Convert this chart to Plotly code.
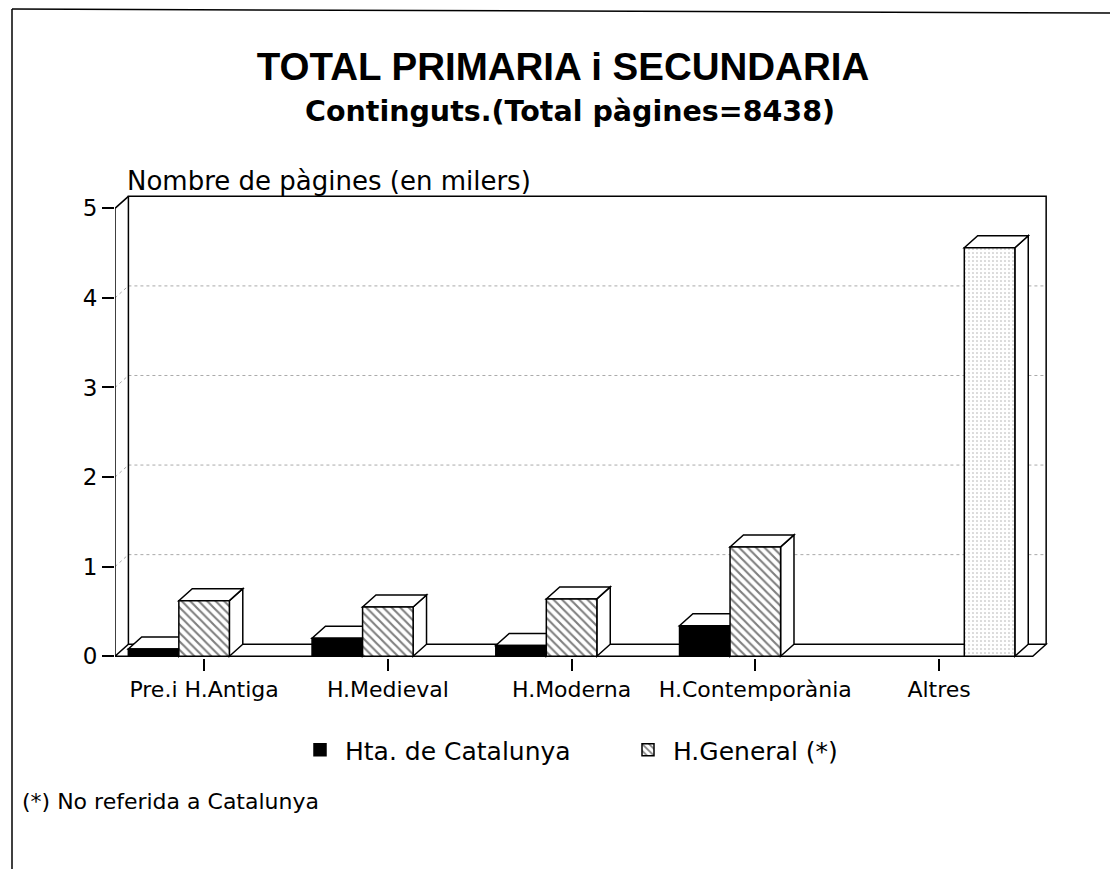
import plotly.graph_objects as go

# ---- data (thousands of pages) ----
categories = ["Pre.i H.Antiga", "H.Medieval", "H.Moderna", "H.Contemporània", "Altres"]
catalunya = [0.08, 0.20, 0.12, 0.34, None]
general = [0.62, 0.55, 0.64, 1.22, None]
altres = [None, None, None, None, 4.56]
y_ticks = [0, 1, 2, 3, 4, 5]

title = "TOTAL PRIMARIA i SECUNDARIA"
subtitle = "Continguts.(Total pàgines=8438)"
ytitle = "Nombre de pàgines (en milers)"
footnote = "(*) No referida a Catalunya"

# ---- geometry / style ----
OFF = 8  # page body margin
W, H = 1110, 861
ML, MR, MT, MB = 107, 70, 187, 211
XMIN, XMAX, DX, DY, YTOP = -0.485, 4.51, 0.073, 0.134, 5
XR = [XMIN, XMAX + DX + 0.01]
YR = [-0.02, YTOP + DY + 0.015]
BW = 0.275
FONT = "DejaVu Sans"

pw = W - ML - MR
ph = H - MT - MB


def px(x):
    # screen pixel x -> paper
    return (x - OFF - ML) / pw


def py(y):
    # screen pixel y -> paper
    return (H - MB - (y - OFF)) / ph


xs = list(range(len(categories)))

fig = go.Figure()
fig.add_trace(go.Bar(
    x=xs, y=catalunya, name="Hta. de Catalunya", width=BW, offset=-1.5 * BW,
    marker=dict(color="black", line=dict(color="black", width=1.5)),
))
fig.add_trace(go.Bar(
    x=xs, y=general, name="H.General (*)", width=BW, offset=-0.5 * BW,
    marker=dict(color="white", line=dict(color="black", width=1.5),
                pattern=dict(shape="\\", size=6, solidity=0.35, fgcolor="black", bgcolor="white")),
))
fig.add_trace(go.Bar(
    x=xs, y=altres, name="Altres", width=BW, offset=0.5 * BW, showlegend=False,
    marker=dict(color="white", line=dict(color="black", width=1.5),
                pattern=dict(shape=".", size=4, solidity=0.12, fgcolor="#555", bgcolor="white")),
))

shapes = []
L = dict(color="black", width=1.5)
GL = dict(color="#aaa", width=1, dash="dot")

# floor
shapes.append(dict(type="path", layer="between", xref="x", yref="y",
                   path=f"M {XMIN},0 L {XMAX},0 L {XMAX+DX},{DY} L {XMIN+DX},{DY} Z",
                   line=L, fillcolor="white"))
# grid lines on back wall + left wall diagonals
for k in y_ticks[1:-1]:
    shapes.append(dict(type="line", layer="between", xref="x", yref="y",
                       x0=XMIN + DX, x1=XMAX + DX, y0=k + DY, y1=k + DY, line=GL))
    shapes.append(dict(type="line", layer="between", xref="x", yref="y",
                       x0=XMIN, x1=XMIN + DX, y0=k, y1=k + DY, line=GL))
# back wall
shapes.append(dict(type="path", layer="between", xref="x", yref="y",
                   path=f"M {XMIN+DX},{DY} L {XMIN+DX},{YTOP+DY} L {XMAX+DX},{YTOP+DY} L {XMAX+DX},{DY}",
                   line=L))
shapes.append(dict(type="line", layer="between", xref="x", yref="y",
                   x0=XMIN, x1=XMIN + DX, y0=YTOP, y1=YTOP + DY, line=L))
# front y axis
shapes.append(dict(type="line", layer="above", xref="x", yref="y",
                   x0=XMIN, x1=XMIN, y0=0, y1=YTOP, line=L))

# 3D tops and sides of bars
for vals, off in ((catalunya, -1.5 * BW), (general, -0.5 * BW), (altres, 0.5 * BW)):
    for c, v in zip(xs, vals):
        if v is None:
            continue
        x0 = c + off
        x1 = x0 + BW
        shapes.append(dict(type="path", layer="between", xref="x", yref="y",
                           path=f"M {x1},0 L {x1+DX},{DY} L {x1+DX},{v+DY} L {x1},{v} Z",
                           line=L, fillcolor="white"))
        shapes.append(dict(type="path", layer="between", xref="x", yref="y",
                           path=f"M {x0},{v} L {x1},{v} L {x1+DX},{v+DY} L {x0+DX},{v+DY} Z",
                           line=L, fillcolor="white"))

# page frame
shapes.append(dict(type="line", xref="paper", yref="paper", x0=px(12), x1=px(12), y0=py(9), y1=py(869),
                   line=dict(color="black", width=1.5)))
shapes.append(dict(type="line", xref="paper", yref="paper", x0=px(12), x1=px(1118), y0=py(9), y1=py(13),
                   line=dict(color="black", width=1.5)))

annotations = [
    dict(text=f"<b>{subtitle}</b>", xref="paper", yref="paper", x=px(570), y=py(111),
         showarrow=False, font=dict(family="DejaVu Sans", size=28.5, color="black"), yanchor="middle"),
    dict(text=ytitle, xref="paper", yref="paper", x=px(125), y=py(181), xanchor="left",
         showarrow=False, font=dict(family=FONT, size=26, color="black"), yanchor="middle"),
    dict(text=footnote, xref="paper", yref="paper", x=px(20), y=py(801), xanchor="left",
         showarrow=False, font=dict(family=FONT, size=22, color="black"), yanchor="middle"),
]

fig.update_layout(
    width=W, height=H,
    margin=dict(l=ML, r=MR, t=MT, b=MB),
    paper_bgcolor="white", plot_bgcolor="white",
    barmode="overlay",
    title=dict(text=f"<b>{title}</b>", x=(563 - OFF) / W, xanchor="center", y=1 - (67 - OFF) / H,
               yanchor="middle", font=dict(family="Liberation Sans", size=38.5, color="black")),
    shapes=shapes, annotations=annotations,
    showlegend=True,
    legend=dict(orientation="h", x=px(295), y=py(750), xanchor="left", yanchor="middle",
                font=dict(family=FONT, size=25, color="black"), entrywidth=273, itemwidth=40,
                bgcolor="rgba(0,0,0,0)"),
    xaxis=dict(range=XR, tickmode="array", tickvals=xs, ticktext=categories,
               showgrid=False, zeroline=False, showline=False,
               ticks="outside", ticklen=12, tickwidth=1.5, tickcolor="black",
               tickfont=dict(family=FONT, size=22, color="black")),
    yaxis=dict(range=YR, tickmode="array", tickvals=y_ticks,
               showgrid=False, zeroline=False, showline=False,
               ticks="outside", ticklen=12, tickwidth=1.5, tickcolor="black",
               tickfont=dict(family=FONT, size=23, color="black")),
)

fig.write_html("out.html")
